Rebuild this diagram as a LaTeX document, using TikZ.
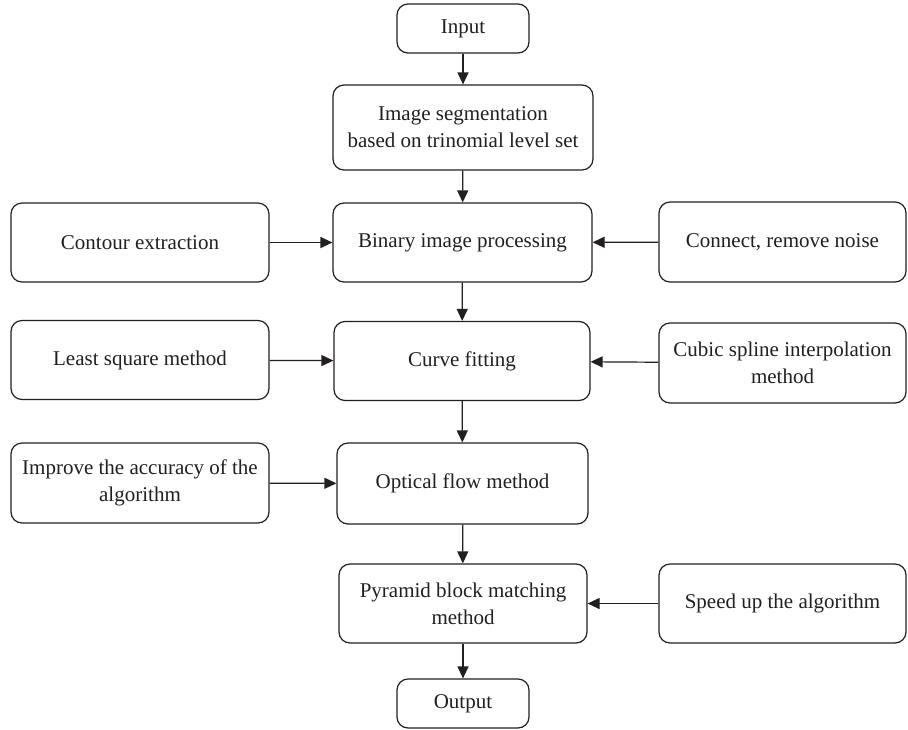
\documentclass[tikz,border=0pt]{standalone}
\usepackage{fontspec}
\setmainfont{Liberation Serif}
\usetikzlibrary{arrows.meta}
\definecolor{ink}{HTML}{231F20}
\begin{document}
\begin{tikzpicture}[x=1pt,y=-1pt,
  box/.style={draw=ink, line width=1.2pt, rounded corners=11pt, align=center,
    inner sep=0pt, font=\fontsize{21}{27}\selectfont, text=ink},
  arr/.style={draw=ink, line width=1.2pt, -{Triangle[length=12pt,width=11pt]}}]
\useasboundingbox (0,0) rectangle (908,729);
\fill[white] (0,0) rectangle (908,729);

\node[box, minimum width=132pt, minimum height=49pt] (in) at (463,28.5) {Input};
\node[box, minimum width=260pt, minimum height=85pt] (seg) at (463,127.5) {Image segmentation\\based on trinomial level set};
\node[box, minimum width=258pt, minimum height=79pt] (cont) at (140,242.5) {Contour extraction};
\node[box, minimum width=259pt, minimum height=79pt] (bin) at (462.5,242.5) {Binary image processing};
\node[box, minimum width=247pt, minimum height=80pt] (conn) at (782.5,242) {Connect, remove noise};
\node[box, minimum width=258pt, minimum height=79pt] (lsq) at (140,360) {Least square method};
\node[box, minimum width=256pt, minimum height=79pt] (curve) at (462,361) {Curve fitting};
\node[box, minimum width=247pt, minimum height=80pt] (cubic) at (782.5,363) {Cubic spline interpolation\\method};
\node[box, minimum width=258pt, minimum height=80pt] (impr) at (140,483) {Improve the accuracy of the\\algorithm};
\node[box, minimum width=251pt, minimum height=81pt] (opt) at (462.5,483.5) {Optical flow method};
\node[box, minimum width=248pt, minimum height=79pt] (pyr) at (463,603.5) {Pyramid block matching\\method};
\node[box, minimum width=247pt, minimum height=79pt] (speed) at (782.5,603.5) {Speed up the algorithm};
\node[box, minimum width=132pt, minimum height=49pt] (out) at (463,703.5) {Output};

\draw[arr] (in) -- (seg);
\draw[arr] (seg) -- (bin);
\draw[arr] (bin) -- (curve);
\draw[arr] (curve) -- (opt);
\draw[arr] (opt) -- (pyr);
\draw[arr] (pyr) -- (out);
\draw[arr] (cont) -- (bin);
\draw[arr] (conn) -- (bin);
\draw[arr] (lsq) -- (curve);
\draw[arr] (cubic) -- (curve);
\draw[arr] (impr) -- (opt);
\draw[arr] (speed) -- (pyr);
\end{tikzpicture}
\end{document}
